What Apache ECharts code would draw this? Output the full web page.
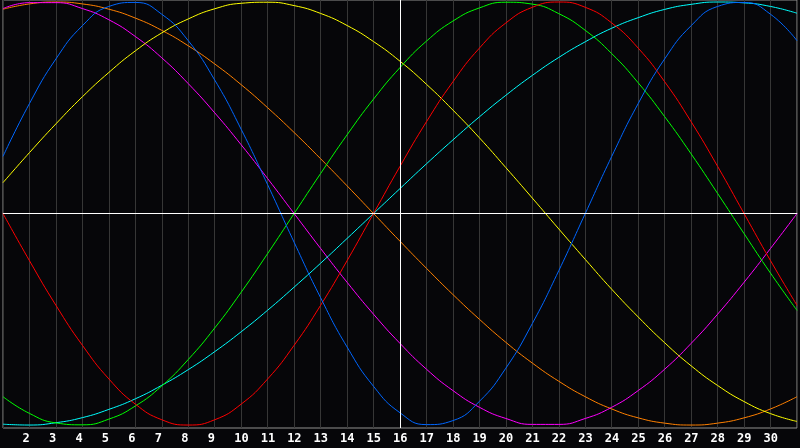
<!DOCTYPE html>
<html>
<head>
<meta charset="utf-8">
<script src="https://cdn.jsdelivr.net/npm/echarts@6/dist/echarts.min.js"></script>
<style>
html,body{margin:0;padding:0;background:#060609;}
#chart{width:800px;height:448px;}
</style>
</head>
<body>
<div id="chart"></div>
<script>
// days shown along the x axis (1..31)
const days = [1,2,3,4,5,6,7,8,9,10,11,12,13,14,15,16,17,18,19,20,21,22,23,24,25,26,27,28,29,30,31];
const todayDay = 16;

// values, -1 .. 1 per day
const blueVals = [0.270,0.520,0.731,0.888,0.979,0.998,0.942,0.817,0.631,0.398,0.136,-0.136,-0.398,-0.631,-0.817,-0.942,-0.998,-0.979,-0.888,-0.731,-0.520,-0.270,0.000,0.270,0.520,0.731,0.888,0.979,0.998,0.942,0.817];
const redVals = [0.000,-0.223,-0.434,-0.623,-0.782,-0.901,-0.975,-1.000,-0.975,-0.901,-0.782,-0.623,-0.434,-0.223,0.000,0.223,0.434,0.623,0.782,0.901,0.975,1.000,0.975,0.901,0.782,0.623,0.434,0.223,0.000,-0.223,-0.434];
const greenVals = [-0.866,-0.945,-0.990,-0.999,-0.972,-0.910,-0.815,-0.690,-0.541,-0.372,-0.189,0.000,0.189,0.372,0.541,0.690,0.815,0.910,0.972,0.999,0.990,0.945,0.866,0.756,0.618,0.458,0.282,0.095,-0.095,-0.282,-0.458];
const magentaVals = [0.969,0.997,0.997,0.969,0.916,0.837,0.736,0.614,0.476,0.325,0.165,0.000,-0.165,-0.325,-0.476,-0.614,-0.736,-0.837,-0.916,-0.969,-0.997,-0.997,-0.969,-0.916,-0.837,-0.736,-0.614,-0.476,-0.325,-0.165,0.000];
const orangeVals = [0.966,0.991,1.000,0.991,0.966,0.924,0.866,0.793,0.707,0.609,0.500,0.383,0.259,0.131,0.000,-0.131,-0.259,-0.383,-0.500,-0.609,-0.707,-0.793,-0.866,-0.924,-0.966,-0.991,-1.000,-0.991,-0.966,-0.924,-0.866];
const yellowVals = [0.146,0.288,0.424,0.552,0.667,0.769,0.854,0.920,0.968,0.994,0.999,0.983,0.946,0.889,0.813,0.720,0.611,0.489,0.358,0.217,0.073,-0.073,-0.217,-0.358,-0.489,-0.611,-0.720,-0.813,-0.889,-0.946,-0.983];
const cyanVals = [-0.996,-1.000,-0.989,-0.965,-0.926,-0.876,-0.812,-0.738,-0.653,-0.559,-0.457,-0.348,-0.235,-0.118,0.000,0.118,0.235,0.348,0.457,0.559,0.653,0.738,0.812,0.876,0.926,0.965,0.989,1.000,0.996,0.979,0.947];

const seriesDefs = [
  {name:'orange', color:'#ff8000', vals:orangeVals},
  {name:'magenta', color:'#ff00ff', vals:magentaVals},
  {name:'yellow', color:'#ffff00', vals:yellowVals},
  {name:'cyan', color:'#00ffff', vals:cyanVals},
  {name:'green', color:'#00ff00', vals:greenVals},
  {name:'red', color:'#ff0000', vals:redVals},
  {name:'blue', color:'#0066ff', vals:blueVals}
];

const series = seriesDefs.map((s) => ({
  name: s.name,
  type: 'line',
  smooth: 0.5,
  showSymbol: false,
  symbol: 'none',
  animation: false,
  lineStyle: {color: s.color, width: 1},
  data: days.map((d, j) => [d, s.vals[j]]),
  z: 3
}));

series.unshift({
  type: 'line',
  data: [],
  z: 2,
  markLine: {
    silent: true,
    symbol: 'none',
    animation: false,
    label: {show: false},
    lineStyle: {color: '#ffffff', width: 1, type: 'solid'},
    data: [{yAxis: 0}, {xAxis: todayDay}]
  }
});

const chart = echarts.init(document.getElementById('chart'));
chart.setOption({
  backgroundColor: '#060609',
  animation: false,
  grid: {left: 0, right: 0, top: 0, bottom: 20, show: true, borderColor: '#909090', borderWidth: 1, backgroundColor: '#060609'},
  xAxis: {
    type: 'value', min: 1, max: 31, interval: 1,
    axisLine: {show: true, lineStyle: {color: '#909090', width: 1}},
    axisTick: {show: false},
    splitLine: {show: true, lineStyle: {color: '#363636', width: 1}},
    axisLabel: {
      show: true, color: '#ffffff', fontFamily: 'DejaVu Sans Mono', fontWeight: 'bold', fontSize: 12,
      margin: 5, align: 'left', padding: [0, 0, 0, -7],
      formatter: v => (v <= 1 || v >= 31) ? '' : String(v)
    }
  },
  yAxis: {
    type: 'value', min: -1.014, max: 1.0095,
    axisLine: {show: false}, axisTick: {show: false}, axisLabel: {show: false}, splitLine: {show: false}
  },
  series: series
});
</script>
</body>
</html>
